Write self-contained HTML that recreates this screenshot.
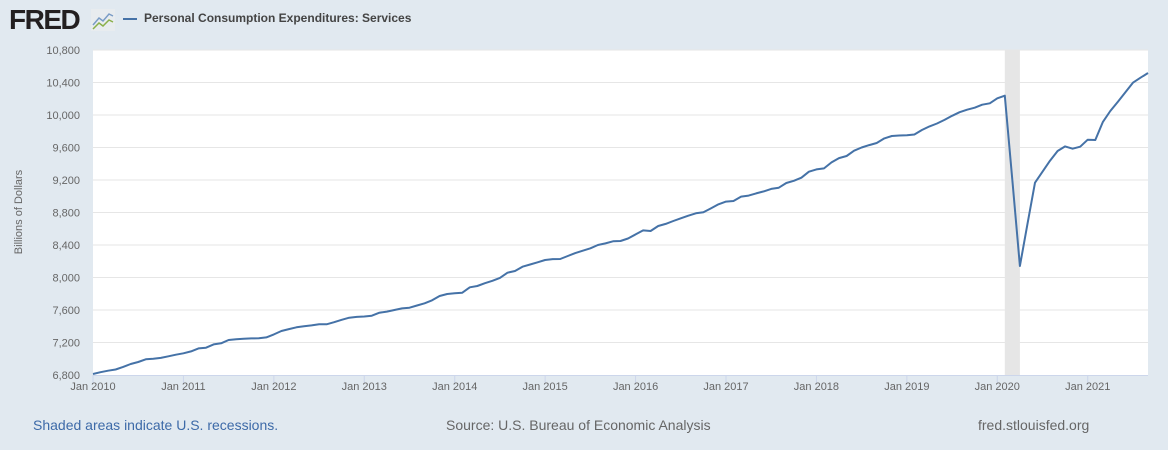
<!DOCTYPE html>
<html><head><meta charset="utf-8"><style>
body{margin:0;width:1168px;height:450px;background:#e1e9f0;font-family:"Liberation Sans",sans-serif;overflow:hidden;position:relative}
.t{position:absolute;white-space:nowrap}
</style></head><body>
<div class="t" style="left:9px;top:4px;font-size:28px;font-weight:bold;color:#231f20;letter-spacing:-1.5px">FRED</div>
<svg style="position:absolute;left:91px;top:9px" width="24" height="22"><rect width="24" height="22" fill="#e8ecef"/><polyline points="2,16 8,9 12,12 18,5 22,7" fill="none" stroke="#7a9cc6" stroke-width="1.5"/><polyline points="2,20 8,14 12,17 18,11 22,13" fill="none" stroke="#8ab04a" stroke-width="1.5"/></svg>
<div style="position:absolute;left:123px;top:18px;width:14px;height:2px;background:#4572a7"></div>
<div class="t" style="left:144px;top:11px;font-size:12px;font-weight:bold;color:#444">Personal Consumption Expenditures: Services</div>
<svg id="chart" style="position:absolute;left:0;top:0" width="1168" height="450"></svg>
<div class="t" style="left:33px;top:417px;font-size:14px;color:#3d6aa8">Shaded areas indicate U.S. recessions.</div>
<div class="t" style="left:446px;top:417px;font-size:14px;color:#666">Source: U.S. Bureau of Economic Analysis</div>
<div class="t" style="left:978px;top:417px;font-size:14px;color:#666">fred.stlouisfed.org</div>
<script>
const values=[6812,6835,6853,6868,6900,6935,6960,6993,7001,7010,7030,7050,
7067,7090,7128,7136,7177,7190,7231,7240,7245,7250,7252,7263,
7300,7341,7365,7387,7400,7410,7424,7424,7450,7480,7505,7515,
7520,7530,7567,7580,7600,7620,7628,7655,7682,7720,7772,7797,
7805,7813,7879,7895,7930,7960,7995,8059,8080,8133,8160,8187,
8215,8226,8228,8265,8300,8330,8360,8400,8420,8445,8449,8480,
8530,8580,8572,8634,8660,8695,8728,8761,8790,8803,8850,8901,
8934,8942,8996,9008,9035,9060,9090,9105,9163,9190,9228,9302,
9330,9343,9417,9470,9495,9561,9600,9630,9655,9712,9741,9748,
9750,9760,9815,9860,9895,9940,9990,10035,10065,10090,10127,10144,
10205,10238,9191,8142,8655,9167,9302,9437,9557,9614,9585,9610,
9696,9692,9913,10049,10164,10279,10398,10459,10517];
const startYear=2010;
const yTicks=[6800,7200,7600,8000,8400,8800,9200,9600,10000,10400,10800];
const xTickLabels=["Jan 2010","Jan 2011","Jan 2012","Jan 2013","Jan 2014","Jan 2015","Jan 2016","Jan 2017","Jan 2018","Jan 2019","Jan 2020","Jan 2021"];
const recession=[121,123];
const L=93,R=1148,T=50,B=375,yMin=6800,yMax=10800;
const nM=values.length-1;
const X=m=>L+m*(R-L)/nM;
const Y=v=>B-(v-yMin)/(yMax-yMin)*(B-T);
const svg=document.getElementById('chart');const NS='http://www.w3.org/2000/svg';
function mk(t,a){const e=document.createElementNS(NS,t);for(const k in a)e.setAttribute(k,a[k]);svg.appendChild(e);return e;}
let e=mk('rect',{x:L,y:T,width:R-L,height:B-T,fill:'#fff'});


e=mk('rect',{x:X(recession[0]),y:T,width:X(recession[1])-X(recession[0]),height:B-T,fill:'#e6e6e6'});


yTicks.forEach(v=>{
 if(v>yMin){e=mk('line',{x1:L,x2:R,y1:Y(v),y2:Y(v),stroke:'#e6e6e6','stroke-width':1});
 
 }
 e=mk('text',{x:80,y:Y(v)+4,'text-anchor':'end','font-size':11,fill:'#666','font-family':'Liberation Sans'});
 e.textContent=v.toLocaleString('en-US');
 
 
});
e=mk('line',{x1:L,x2:R,y1:B+0.5,y2:B+0.5,stroke:'#ccd6eb'});


xTickLabels.forEach((s,i)=>{
 const x=X(i*12);
 e=mk('line',{x1:x,x2:x,y1:B,y2:B+8,stroke:'#ccd6eb'});
 
 
 e=mk('text',{x:x,y:B+15,'text-anchor':'middle','font-size':11,fill:'#666','font-family':'Liberation Sans'});
 e.textContent=s;
 
 
});
e=mk('text',{x:0,y:0,transform:'translate(22,212) rotate(-90)','text-anchor':'middle','font-size':11,fill:'#666','font-family':'Liberation Sans'});
e.textContent='Billions of Dollars';


e=mk('polyline',{points:values.map((v,i)=>X(i).toFixed(1)+','+Y(v).toFixed(1)).join(' '),fill:'none',stroke:'#4572a7','stroke-width':2,'stroke-linejoin':'round'});


</script>
</body></html>
